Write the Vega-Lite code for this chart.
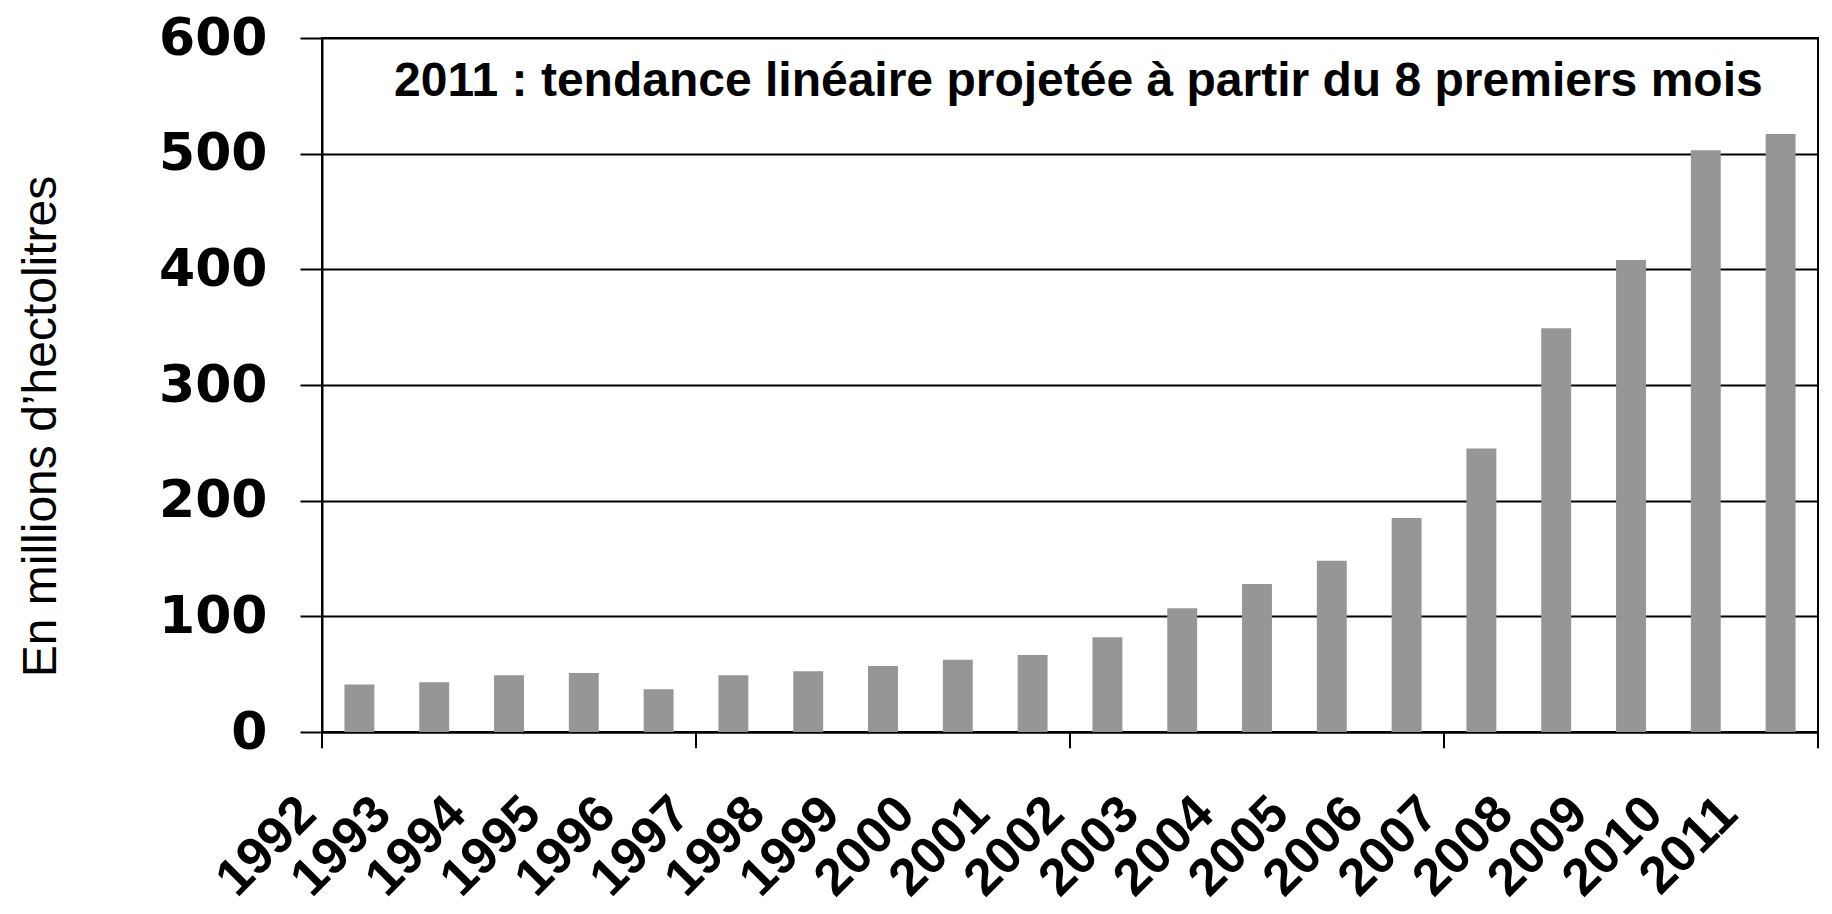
{
  "$schema": "https://vega.github.io/schema/vega-lite/v6.json",
  "width": 1496,
  "height": 694,
  "autosize": {"type": "none"},
  "padding": {"left": 322, "top": 38, "right": 14, "bottom": 182},
  "background": "white",
  "config": {"view": {"stroke": "black", "strokeWidth": 2}, "font": "Liberation Sans"},
  "datasets": {
    "bars": [
      {"year": "1992", "value": 41},
      {"year": "1993", "value": 43},
      {"year": "1994", "value": 49},
      {"year": "1995", "value": 51},
      {"year": "1996", "value": 37},
      {"year": "1997", "value": 49},
      {"year": "1998", "value": 52.5},
      {"year": "1999", "value": 57},
      {"year": "2000", "value": 62.5},
      {"year": "2001", "value": 66.5},
      {"year": "2002", "value": 82},
      {"year": "2003", "value": 107},
      {"year": "2004", "value": 128},
      {"year": "2005", "value": 148},
      {"year": "2006", "value": 185},
      {"year": "2007", "value": 245},
      {"year": "2008", "value": 349},
      {"year": "2009", "value": 408},
      {"year": "2010", "value": 503},
      {"year": "2011", "value": 517}
    ],
    "ticks": [{"year": "1992"}, {"year": "1997"}, {"year": "2002"}, {"year": "2007"}],
    "endtick": [{"year": "2011"}],
    "note": [{"text": "2011 : tendance linéaire projetée à partir du 8 premiers mois"}]
  },
  "layer": [
    {
      "data": {"name": "bars"},
      "mark": {"type": "bar", "color": "#969696", "width": {"band": 0.4}},
      "encoding": {
        "x": {
          "field": "year",
          "type": "ordinal",
          "scale": {"paddingInner": 0, "paddingOuter": 0},
          "axis": {
            "title": null,
            "ticks": false,
            "tickSize": 0,
            "domain": true,
            "domainColor": "black",
            "domainWidth": 2,
            "labelAngle": -45,
            "labelAlign": "right",
            "labelBaseline": "middle",
            "labelOffset": -52,
            "labelPadding": 73,
            "labelFont": "Liberation Sans",
            "labelFontSize": 52,
            "labelFontWeight": "bold",
            "labelColor": "black",
            "labelOverlap": false,
            "labelBound": false,
            "labelFlush": false,
            "grid": false
          }
        },
        "y": {
          "field": "value",
          "type": "quantitative",
          "scale": {"domain": [0, 600], "nice": false},
          "axis": {
            "values": [0, 100, 200, 300, 400, 500, 600],
            "grid": true,
            "gridColor": "black",
            "gridWidth": 2,
            "gridOpacity": 1,
            "domainColor": "black",
            "domainWidth": 2,
            "tickColor": "black",
            "tickWidth": 2,
            "tickSize": 22,
            "labelPadding": 33,
            "labelFont": "DejaVu Sans",
            "labelFontSize": 52,
            "labelFontWeight": "bold",
            "labelColor": "black",
            "labelOverlap": false,
            "labelBound": false,
            "labelFlush": false,
            "title": "En millions d’hectolitres",
            "titleFont": "Liberation Sans",
            "titleFontSize": 48,
            "titleFontWeight": "normal",
            "titleColor": "black",
            "titleAngle": -90,
            "titleAlign": "center",
            "titleBaseline": "middle",
            "titleX": -281,
            "titleY": 388
          }
        }
      }
    },
    {
      "data": {"name": "ticks"},
      "mark": {"type": "rule", "color": "black", "strokeWidth": 2},
      "encoding": {
        "x": {"field": "year", "type": "ordinal", "bandPosition": 0},
        "y": {"datum": 0, "type": "quantitative"},
        "y2": {"datum": -14}
      }
    },
    {
      "data": {"name": "endtick"},
      "mark": {"type": "rule", "color": "black", "strokeWidth": 2},
      "encoding": {
        "x": {"field": "year", "type": "ordinal", "bandPosition": 1},
        "y": {"datum": 0, "type": "quantitative"},
        "y2": {"datum": -14}
      }
    },
    {
      "data": {"name": "note"},
      "mark": {"type": "text", "font": "Liberation Sans", "fontSize": 48, "fontWeight": "bold", "color": "black", "align": "center", "baseline": "middle", "dx": -29},
      "encoding": {
        "x": {"datum": "2002", "type": "ordinal"},
        "y": {"datum": 562, "type": "quantitative"},
        "text": {"field": "text"}
      }
    }
  ]
}
